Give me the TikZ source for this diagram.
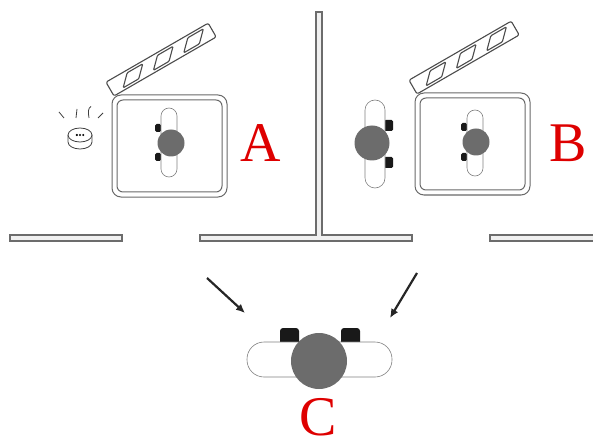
\documentclass[tikz,border=0pt]{standalone}
\usepackage{fontspec}
\setmainfont{Liberation Serif}
\usetikzlibrary{arrows.meta}
\definecolor{vien}{RGB}{105,105,105}
\definecolor{thanxe}{RGB}{108,108,108}
\definecolor{chudo}{RGB}{222,0,0}
\begin{document}
\begin{tikzpicture}[x=1pt,y=-1pt,
		wall/.style={draw=gray!85!black,fill=gray!12,line width=1.1pt},
		cage/.style={draw=vien,line width=1pt},
		lid/.style={draw=black!70,line width=1.1pt,rounded corners=2pt,line join=round},
		slot/.style={draw=gray,fill=white,line width=0.6pt},
		body/.style={fill=thanxe},
		wheel/.style={fill=black!90,rounded corners=1.5pt},
		tag/.style={text=chudo,font=\fontsize{56}{56}\selectfont,inner sep=0pt,anchor=base},
		move/.style={draw=black!85,line width=2.2pt,-{Latex[length=9pt,width=8pt]}}]
		\useasboundingbox (0,0) rectangle (593,438);
		% Tường
		\draw[wall] (10,235) rectangle (122,241);
		\draw[wall] (200,235) -- (316,235) -- (316,12) -- (322,12) -- (322,235)
			-- (412,235) -- (412,241) -- (200,241) -- cycle;
		\draw[wall] (490,235) rectangle (600,241);
		% Hộp A
		\draw[cage,rounded corners=9pt] (112,95) rectangle (227,197);
		\draw[cage,rounded corners=6pt] (117,100) rectangle (222,192);
		\begin{scope}[shift={(114,96)},rotate=30]
			\draw[lid,fill=white] (0,0) rectangle (118,-16);
			\foreach \c in {26,61,96}
				\draw[lid,rounded corners=1pt] (\c-14,-2.5) -- (\c+4,-2.5) -- (\c+15,-13.5) -- (\c-3,-13.5) -- cycle;
		\end{scope}
		\fill[wheel] (155,124) rectangle (161,132);
		\fill[wheel] (155,153) rectangle (161,161);
		\draw[slot,rounded corners=8pt] (161,108) rectangle (177,177);
		\fill[body] (171,143) circle (13.5pt);
		\node[tag] (nhanA) at (261,162) {A};
		% Chuông
		\begin{scope}[shift={(80,135)},draw=black!75,line width=0.8pt]
			\draw[fill=white] (-12,0) -- (-12,7) arc (180:360:12pt and 7pt) -- (12,0);
			\draw[fill=white] (0,0) ellipse (12pt and 7pt);
			\foreach \d in {-3.2,0,3.2}
				\fill (\d,0) circle (1.2pt);
			\draw (-21,-23) -- (-16,-17);
			\draw (-3,-26) -- (-4,-17);
			\draw (11,-28.5) .. controls (8,-27) and (8,-23) .. (9,-17);
			\draw (23,-22) -- (18,-17);
		\end{scope}
		% Hộp B
		\draw[cage,rounded corners=9pt] (415,93) rectangle (530,195);
		\draw[cage,rounded corners=6pt] (420,98) rectangle (525,190);
		\begin{scope}[shift={(417,94)},rotate=30]
			\draw[lid,fill=white] (0,0) rectangle (118,-16);
			\foreach \c in {26,61,96}
				\draw[lid,rounded corners=1pt] (\c-14,-2.5) -- (\c+4,-2.5) -- (\c+15,-13.5) -- (\c-3,-13.5) -- cycle;
		\end{scope}
		\fill[wheel] (461,123) rectangle (467,131);
		\fill[wheel] (461,153) rectangle (467,161);
		\draw[slot,rounded corners=8pt] (467,110) rectangle (483,176);
		\fill[body] (476,142) circle (13.5pt);
		\node[tag] (nhanB) at (568,162) {B};
		% Xe ngoài hộp B
		\fill[wheel] (384,120) rectangle (393,131);
		\fill[wheel] (384,157) rectangle (393,168);
		\draw[slot,rounded corners=10pt] (365,100) rectangle (385,188);
		\fill[body] (372,143) circle (17.5pt);
		% Xe C
		\fill[wheel,rounded corners=3pt] (280,328) rectangle (299,348);
		\fill[wheel,rounded corners=3pt] (341,328) rectangle (360,348);
		\draw[slot,rounded corners=17pt] (247,342) rectangle (392,377);
		\fill[body] (319,361) circle (28pt);
		\node[tag] (nhanC) at (318,435) {C};
		% Mũi tên
		\coordinate (trai1) at (207,278);
		\coordinate (trai2) at (245,313);
		\coordinate (phai1) at (417,273);
		\coordinate (phai2) at (390,318);
		\draw[move] (trai1) -- (trai2);
		\draw[move] (phai1) -- (phai2);
\end{tikzpicture}
\end{document}
